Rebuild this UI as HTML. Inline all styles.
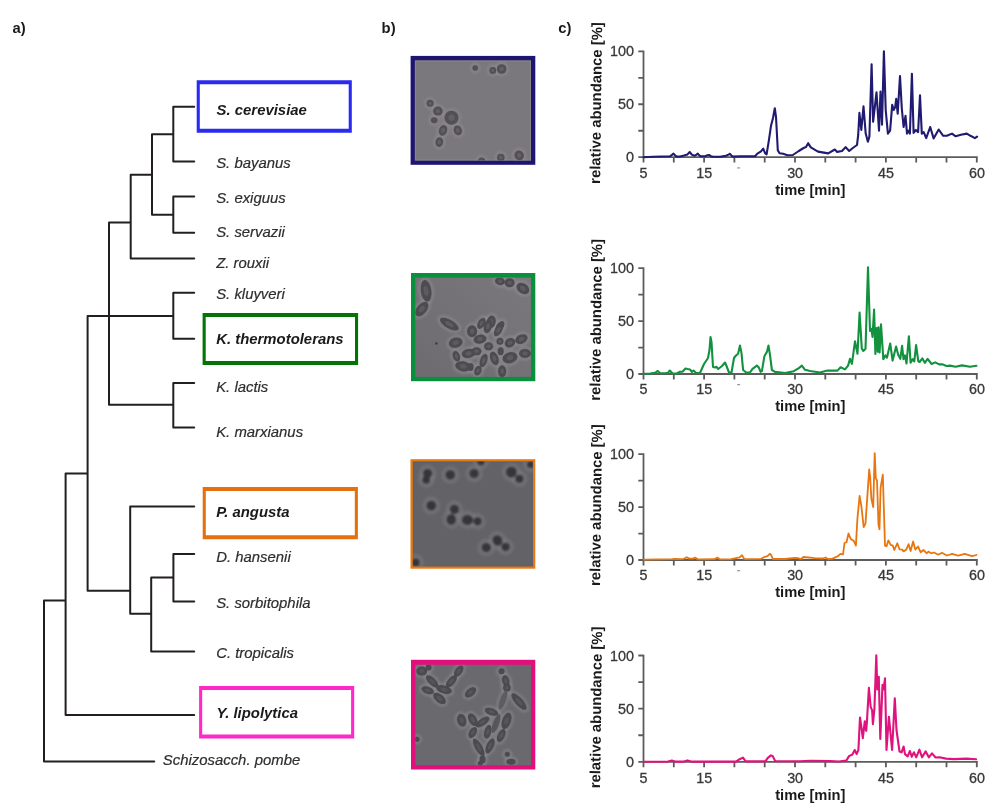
<!DOCTYPE html><html><head><meta charset="utf-8"><style>html,body{margin:0;padding:0;background:#fff;}svg{display:block;will-change:transform;opacity:0.999;}text{font-family:"Liberation Sans", sans-serif;}</style></head><body>
<svg width="1000" height="812" viewBox="0 0 1000 812">
<rect width="1000" height="812" fill="#fff"/>
<text x="12.6" y="33.4" font-size="14.8" font-weight="bold" fill="#1a1a1a">a)</text>
<text x="381.6" y="33.4" font-size="14.8" font-weight="bold" fill="#1a1a1a">b)</text>
<text x="558.2" y="33.4" font-size="14.8" font-weight="bold" fill="#1a1a1a">c)</text>
<path d="M173.3 106.8H194.2 M173.3 161.6H194.2 M173.3 106.8V161.6 M152.0 134.3H173.3 M173.3 196.6H194.2 M173.3 232.8H194.2 M173.3 196.6V232.8 M152.0 214.8H173.3 M152.0 134.3V214.8 M130.7 174.7H152.0 M130.7 258.6H194.2 M130.7 174.7V258.6 M109.0 222.4H130.7 M173.3 292.8H194.2 M173.3 338.7H194.2 M173.3 292.8V338.7 M173.3 382.9H194.2 M173.3 427.4H194.2 M173.3 382.9V427.4 M109.0 404.7H173.3 M109.0 222.4V404.7 M87.6 316.1H173.3 M87.6 316.1V590.8 M87.6 590.8H130.2 M130.2 506.4H194.2 M130.2 506.4V613.7 M130.2 613.7H151.2 M173.4 554.0H194.2 M173.4 601.4H194.2 M173.4 554.0V601.4 M151.2 577.6H173.4 M151.2 651.4H194.2 M151.2 577.6V651.4 M65.6 473.6H87.6 M65.6 473.6V715.0 M65.6 715.0H194.2 M44.0 600.4H65.6 M44.0 600.4V761.5 M44.0 761.5H154.2" stroke="#231f20" stroke-width="2" fill="none" stroke-linecap="round" stroke-linejoin="round"/>
<path d="M196.7 80.3H351.8V132.8H196.7Z M199.79999999999998 84.3V128.8H348.7V84.3Z" fill="#2a2af0" fill-rule="evenodd"/>
<path d="M202.6 312.9H358.1V365.1H202.6Z M205.7 316.9V361.1H355.0V316.9Z" fill="#037403" fill-rule="evenodd"/>
<path d="M202.7 487.0H357.9V539.2H202.7Z M205.79999999999998 491.0V535.2H354.79999999999995V491.0Z" fill="#e5700e" fill-rule="evenodd"/>
<path d="M199.1 686.1H354.2V738.6H199.1Z M202.2 690.1V734.6H351.09999999999997V690.1Z" fill="#ff28c8" fill-rule="evenodd"/>
<text x="216.6" y="115.3" font-size="14.9" font-style="italic" font-weight="bold" fill="#1a1a1a">S. cerevisiae</text>
<text x="216.2" y="168.4" font-size="14.9" font-style="italic" fill="#2e2e2e" stroke="#2e2e2e" stroke-width="0.2">S. bayanus</text>
<text x="216.2" y="203.4" font-size="14.9" font-style="italic" fill="#2e2e2e" stroke="#2e2e2e" stroke-width="0.2">S. exiguus</text>
<text x="216.2" y="237.4" font-size="14.9" font-style="italic" fill="#2e2e2e" stroke="#2e2e2e" stroke-width="0.2">S. servazii</text>
<text x="216.2" y="267.6" font-size="14.9" font-style="italic" fill="#2e2e2e" stroke="#2e2e2e" stroke-width="0.2">Z. rouxii</text>
<text x="216.2" y="298.9" font-size="14.9" font-style="italic" fill="#2e2e2e" stroke="#2e2e2e" stroke-width="0.2">S. kluyveri</text>
<text x="216.2" y="343.8" font-size="14.9" font-style="italic" font-weight="bold" fill="#1a1a1a">K. thermotolerans</text>
<text x="216.2" y="392.0" font-size="14.9" font-style="italic" fill="#2e2e2e" stroke="#2e2e2e" stroke-width="0.2">K. lactis</text>
<text x="216.2" y="436.7" font-size="14.9" font-style="italic" fill="#2e2e2e" stroke="#2e2e2e" stroke-width="0.2">K. marxianus</text>
<text x="216.2" y="516.8" font-size="14.9" font-style="italic" font-weight="bold" fill="#1a1a1a">P. angusta</text>
<text x="216.2" y="562.4" font-size="14.9" font-style="italic" fill="#2e2e2e" stroke="#2e2e2e" stroke-width="0.2">D. hansenii</text>
<text x="216.2" y="608.0" font-size="14.9" font-style="italic" fill="#2e2e2e" stroke="#2e2e2e" stroke-width="0.2">S. sorbitophila</text>
<text x="216.2" y="657.7" font-size="14.9" font-style="italic" fill="#2e2e2e" stroke="#2e2e2e" stroke-width="0.2">C. tropicalis</text>
<text x="216.6" y="718.4" font-size="14.9" font-style="italic" font-weight="bold" fill="#1a1a1a">Y. lipolytica</text>
<text x="162.8" y="765.0" font-size="14.9" font-style="italic" fill="#2e2e2e" stroke="#2e2e2e" stroke-width="0.2">Schizosacch. pombe</text>
<defs><filter id="bl" x="-10%" y="-10%" width="120%" height="120%"><feGaussianBlur stdDeviation="0.75"/></filter><filter id="bl2" x="-10%" y="-10%" width="120%" height="120%"><feGaussianBlur stdDeviation="1.2"/></filter><linearGradient id="g2" x1="1" y1="0" x2="0" y2="1"><stop offset="0" stop-color="#7a787c"/><stop offset="1" stop-color="#6d6b70"/></linearGradient><filter id="bl3" x="-10%" y="-10%" width="120%" height="120%"><feGaussianBlur stdDeviation="1.05"/></filter></defs>
<rect x="410.6" y="55.9" width="124.69999999999993" height="108.9" fill="#1d1570"/>
<rect x="414.90000000000003" y="60.5" width="116.09999999999997" height="100.0" fill="#7b787d"/>
<rect x="415.40000000000003" y="61.0" width="115.09999999999997" height="99.0" fill="none" stroke="#88858b" stroke-width="1"/>
<clipPath id="c1"><rect x="414.90000000000003" y="60.5" width="116.09999999999997" height="100.0"/></clipPath><g clip-path="url(#c1)"><g filter="url(#bl)">
<g filter="url(#bl2)">
<ellipse cx="475.2" cy="68.0" rx="4.199999999999999" ry="4.199999999999999" fill="none" stroke="#a4a2a7" stroke-width="2.2" opacity="0.3"/>
<ellipse cx="492.8" cy="70.4" rx="4.8" ry="4.8" fill="none" stroke="#a4a2a7" stroke-width="2.2" opacity="0.3"/>
<ellipse cx="501.6" cy="69.0" rx="6.199999999999999" ry="6.199999999999999" fill="none" stroke="#a4a2a7" stroke-width="2.2" opacity="0.3"/>
<ellipse cx="430.1" cy="103.3" rx="4.9" ry="4.9" fill="none" stroke="#a4a2a7" stroke-width="2.2" opacity="0.3"/>
<ellipse cx="437.9" cy="111.1" rx="6.199999999999999" ry="5.9" fill="none" stroke="#a4a2a7" stroke-width="2.2" opacity="0.3"/>
<ellipse cx="451.5" cy="117.7" rx="8.4" ry="8.4" fill="none" stroke="#a4a2a7" stroke-width="2.2" opacity="0.3"/>
<ellipse cx="434.2" cy="120.3" rx="4.699999999999999" ry="4.4" fill="none" stroke="#a4a2a7" stroke-width="2.2" opacity="0.3"/>
<ellipse cx="443.0" cy="130.3" rx="5.4" ry="6.9" fill="none" stroke="#a4a2a7" stroke-width="2.2" opacity="0.3" transform="rotate(20 443.0 130.3)"/>
<ellipse cx="457.8" cy="130.3" rx="5.4" ry="6.4" fill="none" stroke="#a4a2a7" stroke-width="2.2" opacity="0.3" transform="rotate(-20 457.8 130.3)"/>
<ellipse cx="439.3" cy="142.1" rx="5.199999999999999" ry="6.199999999999999" fill="none" stroke="#a4a2a7" stroke-width="2.2" opacity="0.3" transform="rotate(10 439.3 142.1)"/>
<ellipse cx="481.6" cy="161.0" rx="4.9" ry="4.9" fill="none" stroke="#a4a2a7" stroke-width="2.2" opacity="0.3"/>
<ellipse cx="500.8" cy="157.5" rx="5.199999999999999" ry="5.199999999999999" fill="none" stroke="#a4a2a7" stroke-width="2.2" opacity="0.3"/>
<ellipse cx="519.2" cy="155.4" rx="6.0" ry="6.4" fill="none" stroke="#a4a2a7" stroke-width="2.2" opacity="0.3" transform="rotate(-30 519.2 155.4)"/>
</g>
<ellipse cx="475.2" cy="68.0" rx="2.8" ry="2.8" fill="#524f56"/>
<ellipse cx="492.8" cy="70.4" rx="3.4" ry="3.4" fill="#524f56"/>
<ellipse cx="492.8" cy="70.4" rx="1.53" ry="1.53" fill="#716e74" opacity="0.55"/>
<ellipse cx="501.6" cy="69.0" rx="4.8" ry="4.8" fill="#524f56"/>
<ellipse cx="501.6" cy="69.0" rx="2.16" ry="2.16" fill="#716e74" opacity="0.55"/>
<ellipse cx="430.1" cy="103.3" rx="3.5" ry="3.5" fill="#524f56"/>
<ellipse cx="430.1" cy="103.3" rx="1.575" ry="1.575" fill="#716e74" opacity="0.55"/>
<ellipse cx="437.9" cy="111.1" rx="4.8" ry="4.5" fill="#524f56"/>
<ellipse cx="437.9" cy="111.1" rx="2.16" ry="2.025" fill="#716e74" opacity="0.55"/>
<ellipse cx="451.5" cy="117.7" rx="7.0" ry="7.0" fill="#524f56"/>
<ellipse cx="451.5" cy="117.7" rx="3.15" ry="3.15" fill="#716e74" opacity="0.55"/>
<ellipse cx="434.2" cy="120.3" rx="3.3" ry="3.0" fill="#524f56"/>
<ellipse cx="443.0" cy="130.3" rx="4.0" ry="5.5" fill="#524f56" transform="rotate(20 443.0 130.3)"/>
<ellipse cx="443.0" cy="130.3" rx="1.8" ry="2.475" fill="#716e74" opacity="0.55" transform="rotate(20 443.0 130.3)"/>
<ellipse cx="457.8" cy="130.3" rx="4.0" ry="5.0" fill="#524f56" transform="rotate(-20 457.8 130.3)"/>
<ellipse cx="457.8" cy="130.3" rx="1.8" ry="2.25" fill="#716e74" opacity="0.55" transform="rotate(-20 457.8 130.3)"/>
<ellipse cx="439.3" cy="142.1" rx="3.8" ry="4.8" fill="#524f56" transform="rotate(10 439.3 142.1)"/>
<ellipse cx="439.3" cy="142.1" rx="1.71" ry="2.16" fill="#716e74" opacity="0.55" transform="rotate(10 439.3 142.1)"/>
<ellipse cx="481.6" cy="161.0" rx="3.5" ry="3.5" fill="#524f56"/>
<ellipse cx="481.6" cy="161.0" rx="1.575" ry="1.575" fill="#716e74" opacity="0.55"/>
<ellipse cx="500.8" cy="157.5" rx="3.8" ry="3.8" fill="#524f56"/>
<ellipse cx="500.8" cy="157.5" rx="1.71" ry="1.71" fill="#716e74" opacity="0.55"/>
<ellipse cx="519.2" cy="155.4" rx="4.6" ry="5.0" fill="#524f56" transform="rotate(-30 519.2 155.4)"/>
<ellipse cx="519.2" cy="155.4" rx="2.07" ry="2.25" fill="#716e74" opacity="0.55" transform="rotate(-30 519.2 155.4)"/>
</g></g>
<rect x="411.0" y="273.0" width="124.29999999999995" height="108.19999999999999" fill="#0a8f3c"/>
<rect x="415.3" y="277.6" width="115.69999999999999" height="99.29999999999995" fill="url(#g2)"/>
<clipPath id="c2"><rect x="415.3" y="277.6" width="115.69999999999999" height="99.29999999999995"/></clipPath><g clip-path="url(#c2)"><g filter="url(#bl)">
<g filter="url(#bl2)">
<ellipse cx="426.1" cy="290.9" rx="6.699999999999999" ry="12.4" fill="none" stroke="#9c9aa0" stroke-width="2.2" opacity="0.45" transform="rotate(-8 426.1 290.9)"/>
<ellipse cx="421.8" cy="309.1" rx="6.199999999999999" ry="9.9" fill="none" stroke="#9c9aa0" stroke-width="2.2" opacity="0.45" transform="rotate(40 421.8 309.1)"/>
<ellipse cx="449.3" cy="324.1" rx="5.699999999999999" ry="11.9" fill="none" stroke="#9c9aa0" stroke-width="2.2" opacity="0.45" transform="rotate(-60 449.3 324.1)"/>
<ellipse cx="500.0" cy="281.3" rx="6.4" ry="5.199999999999999" fill="none" stroke="#9c9aa0" stroke-width="2.2" opacity="0.45" transform="rotate(10 500.0 281.3)"/>
<ellipse cx="509.6" cy="282.7" rx="6.4" ry="5.9" fill="none" stroke="#9c9aa0" stroke-width="2.2" opacity="0.45"/>
<ellipse cx="522.9" cy="288.4" rx="8.4" ry="6.4" fill="none" stroke="#9c9aa0" stroke-width="2.2" opacity="0.45" transform="rotate(35 522.9 288.4)"/>
<ellipse cx="481.4" cy="323.4" rx="4.9" ry="7.4" fill="none" stroke="#9c9aa0" stroke-width="2.2" opacity="0.45" transform="rotate(30 481.4 323.4)"/>
<ellipse cx="491.1" cy="322.0" rx="5.9" ry="7.9" fill="none" stroke="#9c9aa0" stroke-width="2.2" opacity="0.45" transform="rotate(15 491.1 322.0)"/>
<ellipse cx="500.0" cy="326.3" rx="4.9" ry="7.4" fill="none" stroke="#9c9aa0" stroke-width="2.2" opacity="0.45" transform="rotate(35 500.0 326.3)"/>
<ellipse cx="455.7" cy="342.7" rx="8.4" ry="6.4" fill="none" stroke="#9c9aa0" stroke-width="2.2" opacity="0.45" transform="rotate(-15 455.7 342.7)"/>
<ellipse cx="456.4" cy="356.3" rx="4.9" ry="6.9" fill="none" stroke="#9c9aa0" stroke-width="2.2" opacity="0.45" transform="rotate(-20 456.4 356.3)"/>
<ellipse cx="463.2" cy="366.3" rx="9.4" ry="6.4" fill="none" stroke="#9c9aa0" stroke-width="2.2" opacity="0.45" transform="rotate(10 463.2 366.3)"/>
<ellipse cx="468.6" cy="353.4" rx="8.4" ry="5.9" fill="none" stroke="#9c9aa0" stroke-width="2.2" opacity="0.45" transform="rotate(-10 468.6 353.4)"/>
<ellipse cx="472.1" cy="331.3" rx="6.4" ry="7.4" fill="none" stroke="#9c9aa0" stroke-width="2.2" opacity="0.45"/>
<ellipse cx="480.0" cy="339.1" rx="7.9" ry="5.9" fill="none" stroke="#9c9aa0" stroke-width="2.2" opacity="0.45" transform="rotate(-10 480.0 339.1)"/>
<ellipse cx="487.9" cy="326.3" rx="5.4" ry="8.4" fill="none" stroke="#9c9aa0" stroke-width="2.2" opacity="0.45" transform="rotate(15 487.9 326.3)"/>
<ellipse cx="498.6" cy="329.9" rx="4.9" ry="8.4" fill="none" stroke="#9c9aa0" stroke-width="2.2" opacity="0.45" transform="rotate(30 498.6 329.9)"/>
<ellipse cx="500.0" cy="341.3" rx="4.9" ry="4.9" fill="none" stroke="#9c9aa0" stroke-width="2.2" opacity="0.45"/>
<ellipse cx="488.6" cy="346.3" rx="5.9" ry="5.4" fill="none" stroke="#9c9aa0" stroke-width="2.2" opacity="0.45"/>
<ellipse cx="510.0" cy="342.7" rx="6.9" ry="5.9" fill="none" stroke="#9c9aa0" stroke-width="2.2" opacity="0.45" transform="rotate(-30 510.0 342.7)"/>
<ellipse cx="521.4" cy="339.1" rx="7.9" ry="5.9" fill="none" stroke="#9c9aa0" stroke-width="2.2" opacity="0.45" transform="rotate(-25 521.4 339.1)"/>
<ellipse cx="500.7" cy="351.3" rx="4.4" ry="5.4" fill="none" stroke="#9c9aa0" stroke-width="2.2" opacity="0.45"/>
<ellipse cx="510.0" cy="357.7" rx="8.9" ry="6.9" fill="none" stroke="#9c9aa0" stroke-width="2.2" opacity="0.45" transform="rotate(-15 510.0 357.7)"/>
<ellipse cx="525.0" cy="353.4" rx="7.4" ry="5.9" fill="none" stroke="#9c9aa0" stroke-width="2.2" opacity="0.45"/>
<ellipse cx="476.4" cy="351.3" rx="6.4" ry="5.4" fill="none" stroke="#9c9aa0" stroke-width="2.2" opacity="0.45"/>
<ellipse cx="483.6" cy="360.6" rx="4.9" ry="8.4" fill="none" stroke="#9c9aa0" stroke-width="2.2" opacity="0.45" transform="rotate(20 483.6 360.6)"/>
<ellipse cx="494.3" cy="358.4" rx="5.4" ry="8.4" fill="none" stroke="#9c9aa0" stroke-width="2.2" opacity="0.45" transform="rotate(-20 494.3 358.4)"/>
<ellipse cx="477.9" cy="370.6" rx="4.9" ry="6.4" fill="none" stroke="#9c9aa0" stroke-width="2.2" opacity="0.45" transform="rotate(20 477.9 370.6)"/>
<ellipse cx="502.1" cy="371.3" rx="5.4" ry="7.4" fill="none" stroke="#9c9aa0" stroke-width="2.2" opacity="0.45"/>
<ellipse cx="470.7" cy="367" rx="4.4" ry="5.4" fill="none" stroke="#9c9aa0" stroke-width="2.2" opacity="0.45"/>
</g>
<ellipse cx="426.1" cy="290.9" rx="5.3" ry="11" fill="#4d4c51" transform="rotate(-8 426.1 290.9)"/>
<ellipse cx="426.1" cy="290.9" rx="2.385" ry="4.95" fill="#69676d" opacity="0.55" transform="rotate(-8 426.1 290.9)"/>
<ellipse cx="421.8" cy="309.1" rx="4.8" ry="8.5" fill="#4d4c51" transform="rotate(40 421.8 309.1)"/>
<ellipse cx="421.8" cy="309.1" rx="2.16" ry="3.825" fill="#69676d" opacity="0.55" transform="rotate(40 421.8 309.1)"/>
<ellipse cx="449.3" cy="324.1" rx="4.3" ry="10.5" fill="#4d4c51" transform="rotate(-60 449.3 324.1)"/>
<ellipse cx="449.3" cy="324.1" rx="1.935" ry="4.7250000000000005" fill="#69676d" opacity="0.55" transform="rotate(-60 449.3 324.1)"/>
<ellipse cx="500.0" cy="281.3" rx="5" ry="3.8" fill="#4d4c51" transform="rotate(10 500.0 281.3)"/>
<ellipse cx="500.0" cy="281.3" rx="2.25" ry="1.71" fill="#69676d" opacity="0.55" transform="rotate(10 500.0 281.3)"/>
<ellipse cx="509.6" cy="282.7" rx="5" ry="4.5" fill="#4d4c51"/>
<ellipse cx="509.6" cy="282.7" rx="2.25" ry="2.025" fill="#69676d" opacity="0.55"/>
<ellipse cx="522.9" cy="288.4" rx="7" ry="5" fill="#4d4c51" transform="rotate(35 522.9 288.4)"/>
<ellipse cx="522.9" cy="288.4" rx="3.15" ry="2.25" fill="#69676d" opacity="0.55" transform="rotate(35 522.9 288.4)"/>
<ellipse cx="481.4" cy="323.4" rx="3.5" ry="6" fill="#4d4c51" transform="rotate(30 481.4 323.4)"/>
<ellipse cx="481.4" cy="323.4" rx="1.575" ry="2.7" fill="#69676d" opacity="0.55" transform="rotate(30 481.4 323.4)"/>
<ellipse cx="491.1" cy="322.0" rx="4.5" ry="6.5" fill="#4d4c51" transform="rotate(15 491.1 322.0)"/>
<ellipse cx="491.1" cy="322.0" rx="2.025" ry="2.9250000000000003" fill="#69676d" opacity="0.55" transform="rotate(15 491.1 322.0)"/>
<ellipse cx="500.0" cy="326.3" rx="3.5" ry="6" fill="#4d4c51" transform="rotate(35 500.0 326.3)"/>
<ellipse cx="500.0" cy="326.3" rx="1.575" ry="2.7" fill="#69676d" opacity="0.55" transform="rotate(35 500.0 326.3)"/>
<ellipse cx="455.7" cy="342.7" rx="7" ry="5" fill="#4d4c51" transform="rotate(-15 455.7 342.7)"/>
<ellipse cx="455.7" cy="342.7" rx="3.15" ry="2.25" fill="#69676d" opacity="0.55" transform="rotate(-15 455.7 342.7)"/>
<ellipse cx="456.4" cy="356.3" rx="3.5" ry="5.5" fill="#4d4c51" transform="rotate(-20 456.4 356.3)"/>
<ellipse cx="456.4" cy="356.3" rx="1.575" ry="2.475" fill="#69676d" opacity="0.55" transform="rotate(-20 456.4 356.3)"/>
<ellipse cx="463.2" cy="366.3" rx="8" ry="5" fill="#4d4c51" transform="rotate(10 463.2 366.3)"/>
<ellipse cx="463.2" cy="366.3" rx="3.6" ry="2.25" fill="#69676d" opacity="0.55" transform="rotate(10 463.2 366.3)"/>
<ellipse cx="468.6" cy="353.4" rx="7" ry="4.5" fill="#4d4c51" transform="rotate(-10 468.6 353.4)"/>
<ellipse cx="468.6" cy="353.4" rx="3.15" ry="2.025" fill="#69676d" opacity="0.55" transform="rotate(-10 468.6 353.4)"/>
<ellipse cx="472.1" cy="331.3" rx="5" ry="6" fill="#4d4c51"/>
<ellipse cx="472.1" cy="331.3" rx="2.25" ry="2.7" fill="#69676d" opacity="0.55"/>
<ellipse cx="480.0" cy="339.1" rx="6.5" ry="4.5" fill="#4d4c51" transform="rotate(-10 480.0 339.1)"/>
<ellipse cx="480.0" cy="339.1" rx="2.9250000000000003" ry="2.025" fill="#69676d" opacity="0.55" transform="rotate(-10 480.0 339.1)"/>
<ellipse cx="487.9" cy="326.3" rx="4" ry="7" fill="#4d4c51" transform="rotate(15 487.9 326.3)"/>
<ellipse cx="487.9" cy="326.3" rx="1.8" ry="3.15" fill="#69676d" opacity="0.55" transform="rotate(15 487.9 326.3)"/>
<ellipse cx="498.6" cy="329.9" rx="3.5" ry="7" fill="#4d4c51" transform="rotate(30 498.6 329.9)"/>
<ellipse cx="498.6" cy="329.9" rx="1.575" ry="3.15" fill="#69676d" opacity="0.55" transform="rotate(30 498.6 329.9)"/>
<ellipse cx="500.0" cy="341.3" rx="3.5" ry="3.5" fill="#4d4c51"/>
<ellipse cx="500.0" cy="341.3" rx="1.575" ry="1.575" fill="#69676d" opacity="0.55"/>
<ellipse cx="488.6" cy="346.3" rx="4.5" ry="4" fill="#4d4c51"/>
<ellipse cx="488.6" cy="346.3" rx="2.025" ry="1.8" fill="#69676d" opacity="0.55"/>
<ellipse cx="510.0" cy="342.7" rx="5.5" ry="4.5" fill="#4d4c51" transform="rotate(-30 510.0 342.7)"/>
<ellipse cx="510.0" cy="342.7" rx="2.475" ry="2.025" fill="#69676d" opacity="0.55" transform="rotate(-30 510.0 342.7)"/>
<ellipse cx="521.4" cy="339.1" rx="6.5" ry="4.5" fill="#4d4c51" transform="rotate(-25 521.4 339.1)"/>
<ellipse cx="521.4" cy="339.1" rx="2.9250000000000003" ry="2.025" fill="#69676d" opacity="0.55" transform="rotate(-25 521.4 339.1)"/>
<ellipse cx="500.7" cy="351.3" rx="3" ry="4" fill="#4d4c51"/>
<ellipse cx="510.0" cy="357.7" rx="7.5" ry="5.5" fill="#4d4c51" transform="rotate(-15 510.0 357.7)"/>
<ellipse cx="510.0" cy="357.7" rx="3.375" ry="2.475" fill="#69676d" opacity="0.55" transform="rotate(-15 510.0 357.7)"/>
<ellipse cx="525.0" cy="353.4" rx="6" ry="4.5" fill="#4d4c51"/>
<ellipse cx="525.0" cy="353.4" rx="2.7" ry="2.025" fill="#69676d" opacity="0.55"/>
<ellipse cx="476.4" cy="351.3" rx="5" ry="4" fill="#4d4c51"/>
<ellipse cx="476.4" cy="351.3" rx="2.25" ry="1.8" fill="#69676d" opacity="0.55"/>
<ellipse cx="483.6" cy="360.6" rx="3.5" ry="7" fill="#4d4c51" transform="rotate(20 483.6 360.6)"/>
<ellipse cx="483.6" cy="360.6" rx="1.575" ry="3.15" fill="#69676d" opacity="0.55" transform="rotate(20 483.6 360.6)"/>
<ellipse cx="494.3" cy="358.4" rx="4" ry="7" fill="#4d4c51" transform="rotate(-20 494.3 358.4)"/>
<ellipse cx="494.3" cy="358.4" rx="1.8" ry="3.15" fill="#69676d" opacity="0.55" transform="rotate(-20 494.3 358.4)"/>
<ellipse cx="477.9" cy="370.6" rx="3.5" ry="5" fill="#4d4c51" transform="rotate(20 477.9 370.6)"/>
<ellipse cx="477.9" cy="370.6" rx="1.575" ry="2.25" fill="#69676d" opacity="0.55" transform="rotate(20 477.9 370.6)"/>
<ellipse cx="502.1" cy="371.3" rx="4" ry="6" fill="#4d4c51"/>
<ellipse cx="502.1" cy="371.3" rx="1.8" ry="2.7" fill="#69676d" opacity="0.55"/>
<ellipse cx="470.7" cy="367" rx="3" ry="4" fill="#4d4c51"/>
<circle cx="436.4" cy="343.4" r="1.2" fill="#3a393e"/>
</g></g>
<rect x="410.5" y="459.2" width="124.79999999999995" height="109.50000000000006" fill="#e8780f"/>
<rect x="412.9" y="461.59999999999997" width="120.0" height="104.7000000000001" fill="#636267"/>
<rect x="413.4" y="462.09999999999997" width="119.0" height="103.7000000000001" fill="none" stroke="#5a6270" stroke-width="1"/>
<clipPath id="c3"><rect x="412.9" y="461.59999999999997" width="120.0" height="104.7000000000001"/></clipPath><g clip-path="url(#c3)"><g filter="url(#bl3)">
<g filter="url(#bl2)">
<ellipse cx="427.6" cy="473.5" rx="7.0" ry="7.0" fill="none" stroke="#8c8b90" stroke-width="2.1" opacity="0.6"/>
<ellipse cx="426.2" cy="479.7" rx="6.3" ry="6.3" fill="none" stroke="#8c8b90" stroke-width="2.1" opacity="0.6"/>
<ellipse cx="450.3" cy="474.9" rx="7.1" ry="7.1" fill="none" stroke="#8c8b90" stroke-width="2.1" opacity="0.6"/>
<ellipse cx="474.1" cy="473.5" rx="7.0" ry="7.0" fill="none" stroke="#8c8b90" stroke-width="2.1" opacity="0.6"/>
<ellipse cx="511.4" cy="472.1" rx="7.800000000000001" ry="7.800000000000001" fill="none" stroke="#8c8b90" stroke-width="2.1" opacity="0.6"/>
<ellipse cx="519.3" cy="478.7" rx="6.4" ry="6.4" fill="none" stroke="#8c8b90" stroke-width="2.1" opacity="0.6"/>
<ellipse cx="431.3" cy="505.6" rx="7.199999999999999" ry="7.199999999999999" fill="none" stroke="#8c8b90" stroke-width="2.1" opacity="0.6"/>
<ellipse cx="454.4" cy="509.4" rx="7.0" ry="7.0" fill="none" stroke="#8c8b90" stroke-width="2.1" opacity="0.6"/>
<ellipse cx="451.3" cy="519.4" rx="7.0" ry="7.800000000000001" fill="none" stroke="#8c8b90" stroke-width="2.1" opacity="0.6"/>
<ellipse cx="467.5" cy="520.0" rx="8.0" ry="7.4" fill="none" stroke="#8c8b90" stroke-width="2.1" opacity="0.6"/>
<ellipse cx="477.5" cy="521.3" rx="6.4" ry="6.4" fill="none" stroke="#8c8b90" stroke-width="2.1" opacity="0.6"/>
<ellipse cx="486.3" cy="547.5" rx="7.0" ry="7.0" fill="none" stroke="#8c8b90" stroke-width="2.1" opacity="0.6"/>
<ellipse cx="497.5" cy="540.6" rx="7.199999999999999" ry="7.800000000000001" fill="none" stroke="#8c8b90" stroke-width="2.1" opacity="0.6" transform="rotate(-30 497.5 540.6)"/>
<ellipse cx="505.6" cy="546.9" rx="6.6" ry="6.6" fill="none" stroke="#8c8b90" stroke-width="2.1" opacity="0.6"/>
<ellipse cx="415.6" cy="562.5" rx="6.4" ry="6.4" fill="none" stroke="#8c8b90" stroke-width="2.1" opacity="0.6"/>
<ellipse cx="481.0" cy="461.8" rx="6.0" ry="6.0" fill="none" stroke="#8c8b90" stroke-width="2.1" opacity="0.6"/>
<ellipse cx="530.7" cy="464.5" rx="6.0" ry="6.0" fill="none" stroke="#8c8b90" stroke-width="2.1" opacity="0.6"/>
</g>
<ellipse cx="427.6" cy="473.5" rx="4.6" ry="4.6" fill="#36353a"/>
<ellipse cx="426.2" cy="479.7" rx="3.9" ry="3.9" fill="#36353a"/>
<ellipse cx="450.3" cy="474.9" rx="4.7" ry="4.7" fill="#36353a"/>
<ellipse cx="474.1" cy="473.5" rx="4.6" ry="4.6" fill="#36353a"/>
<ellipse cx="511.4" cy="472.1" rx="5.4" ry="5.4" fill="#36353a"/>
<ellipse cx="519.3" cy="478.7" rx="4.0" ry="4.0" fill="#36353a"/>
<ellipse cx="431.3" cy="505.6" rx="4.8" ry="4.8" fill="#36353a"/>
<ellipse cx="454.4" cy="509.4" rx="4.6" ry="4.6" fill="#36353a"/>
<ellipse cx="451.3" cy="519.4" rx="4.6" ry="5.4" fill="#36353a"/>
<ellipse cx="467.5" cy="520.0" rx="5.6" ry="5.0" fill="#36353a"/>
<ellipse cx="477.5" cy="521.3" rx="4.0" ry="4.0" fill="#36353a"/>
<ellipse cx="486.3" cy="547.5" rx="4.6" ry="4.6" fill="#36353a"/>
<ellipse cx="497.5" cy="540.6" rx="4.8" ry="5.4" fill="#36353a" transform="rotate(-30 497.5 540.6)"/>
<ellipse cx="505.6" cy="546.9" rx="4.2" ry="4.2" fill="#36353a"/>
<ellipse cx="415.6" cy="562.5" rx="4.0" ry="4.0" fill="#36353a"/>
<ellipse cx="481.0" cy="461.8" rx="3.6" ry="3.6" fill="#36353a"/>
<ellipse cx="530.7" cy="464.5" rx="3.6" ry="3.6" fill="#36353a"/>
</g></g>
<rect x="411.0" y="659.8" width="124.29999999999995" height="109.70000000000005" fill="#e20e7c"/>
<rect x="415.3" y="664.8" width="115.69999999999999" height="100.40000000000009" fill="#6a696d"/>
<clipPath id="c4"><rect x="415.3" y="664.8" width="115.69999999999999" height="100.40000000000009"/></clipPath><g clip-path="url(#c4)"><g filter="url(#bl)">
<g filter="url(#bl2)">
<ellipse cx="421.8" cy="671.1" rx="6.9" ry="5.9" fill="none" stroke="#9a999e" stroke-width="2.2" opacity="0.45"/>
<ellipse cx="428.5" cy="667.4" rx="4.4" ry="4.4" fill="none" stroke="#9a999e" stroke-width="2.2" opacity="0.45"/>
<ellipse cx="432.2" cy="681.4" rx="4.9" ry="9.4" fill="none" stroke="#9a999e" stroke-width="2.2" opacity="0.45" transform="rotate(-45 432.2 681.4)"/>
<ellipse cx="444.0" cy="689.5" rx="5.4" ry="9.4" fill="none" stroke="#9a999e" stroke-width="2.2" opacity="0.45" transform="rotate(-75 444.0 689.5)"/>
<ellipse cx="451.4" cy="681.4" rx="4.9" ry="8.9" fill="none" stroke="#9a999e" stroke-width="2.2" opacity="0.45" transform="rotate(40 451.4 681.4)"/>
<ellipse cx="458.7" cy="671.1" rx="4.9" ry="7.9" fill="none" stroke="#9a999e" stroke-width="2.2" opacity="0.45" transform="rotate(35 458.7 671.1)"/>
<ellipse cx="427.7" cy="690.3" rx="4.9" ry="7.9" fill="none" stroke="#9a999e" stroke-width="2.2" opacity="0.45" transform="rotate(-70 427.7 690.3)"/>
<ellipse cx="439.5" cy="698.4" rx="5.4" ry="8.9" fill="none" stroke="#9a999e" stroke-width="2.2" opacity="0.45" transform="rotate(-50 439.5 698.4)"/>
<ellipse cx="470.5" cy="692.3" rx="5.199999999999999" ry="7.9" fill="none" stroke="#9a999e" stroke-width="2.2" opacity="0.45" transform="rotate(50 470.5 692.3)"/>
<ellipse cx="501.6" cy="671.3" rx="4.4" ry="4.4" fill="none" stroke="#9a999e" stroke-width="2.2" opacity="0.45"/>
<ellipse cx="505.8" cy="681.0" rx="4.9" ry="7.4" fill="none" stroke="#9a999e" stroke-width="2.2" opacity="0.45" transform="rotate(-15 505.8 681.0)"/>
<ellipse cx="506.9" cy="687.8" rx="5.199999999999999" ry="5.4" fill="none" stroke="#9a999e" stroke-width="2.2" opacity="0.45"/>
<ellipse cx="503.0" cy="700.0" rx="4.199999999999999" ry="11.4" fill="none" stroke="#9a999e" stroke-width="2.2" opacity="0.45" transform="rotate(20 503.0 700.0)"/>
<ellipse cx="519.0" cy="701.6" rx="5.199999999999999" ry="11.9" fill="none" stroke="#9a999e" stroke-width="2.2" opacity="0.45" transform="rotate(-42 519.0 701.6)"/>
<ellipse cx="491.5" cy="711.8" rx="4.9" ry="8.4" fill="none" stroke="#9a999e" stroke-width="2.2" opacity="0.45" transform="rotate(-70 491.5 711.8)"/>
<ellipse cx="506.5" cy="721.0" rx="5.699999999999999" ry="9.9" fill="none" stroke="#9a999e" stroke-width="2.2" opacity="0.45" transform="rotate(20 506.5 721.0)"/>
<ellipse cx="461.7" cy="720.3" rx="5.9" ry="7.9" fill="none" stroke="#9a999e" stroke-width="2.2" opacity="0.45" transform="rotate(-15 461.7 720.3)"/>
<ellipse cx="417.0" cy="739.2" rx="3.9" ry="3.9" fill="none" stroke="#9a999e" stroke-width="2.2" opacity="0.45"/>
<ellipse cx="472.8" cy="719.8" rx="5.4" ry="8.4" fill="none" stroke="#9a999e" stroke-width="2.2" opacity="0.45" transform="rotate(-30 472.8 719.8)"/>
<ellipse cx="482.5" cy="722.0" rx="4.9" ry="9.4" fill="none" stroke="#9a999e" stroke-width="2.2" opacity="0.45" transform="rotate(55 482.5 722.0)"/>
<ellipse cx="472.8" cy="732.5" rx="4.9" ry="7.4" fill="none" stroke="#9a999e" stroke-width="2.2" opacity="0.45" transform="rotate(30 472.8 732.5)"/>
<ellipse cx="487.8" cy="731.8" rx="4.9" ry="8.4" fill="none" stroke="#9a999e" stroke-width="2.2" opacity="0.45" transform="rotate(15 487.8 731.8)"/>
<ellipse cx="496.0" cy="723.5" rx="4.4" ry="11.4" fill="none" stroke="#9a999e" stroke-width="2.2" opacity="0.45" transform="rotate(20 496.0 723.5)"/>
<ellipse cx="501.3" cy="735.5" rx="4.9" ry="8.4" fill="none" stroke="#9a999e" stroke-width="2.2" opacity="0.45" transform="rotate(25 501.3 735.5)"/>
<ellipse cx="478.8" cy="747.5" rx="4.9" ry="11.4" fill="none" stroke="#9a999e" stroke-width="2.2" opacity="0.45" transform="rotate(-30 478.8 747.5)"/>
<ellipse cx="490.0" cy="746.0" rx="4.9" ry="9.4" fill="none" stroke="#9a999e" stroke-width="2.2" opacity="0.45" transform="rotate(25 490.0 746.0)"/>
<ellipse cx="482.5" cy="759.5" rx="4.4" ry="5.4" fill="none" stroke="#9a999e" stroke-width="2.2" opacity="0.45"/>
<ellipse cx="480.3" cy="763.3" rx="3.9" ry="3.9" fill="none" stroke="#9a999e" stroke-width="2.2" opacity="0.45"/>
<ellipse cx="507.3" cy="754.3" rx="3.9" ry="3.9" fill="none" stroke="#9a999e" stroke-width="2.2" opacity="0.45"/>
<ellipse cx="511.0" cy="761.8" rx="5.9" ry="4.4" fill="none" stroke="#9a999e" stroke-width="2.2" opacity="0.45"/>
</g>
<ellipse cx="421.8" cy="671.1" rx="5.5" ry="4.5" fill="#4c4b50"/>
<ellipse cx="421.8" cy="671.1" rx="2.475" ry="2.025" fill="#605f64" opacity="0.55"/>
<ellipse cx="428.5" cy="667.4" rx="3" ry="3" fill="#4c4b50"/>
<ellipse cx="432.2" cy="681.4" rx="3.5" ry="8" fill="#4c4b50" transform="rotate(-45 432.2 681.4)"/>
<ellipse cx="432.2" cy="681.4" rx="1.575" ry="3.6" fill="#605f64" opacity="0.55" transform="rotate(-45 432.2 681.4)"/>
<ellipse cx="444.0" cy="689.5" rx="4" ry="8" fill="#4c4b50" transform="rotate(-75 444.0 689.5)"/>
<ellipse cx="444.0" cy="689.5" rx="1.8" ry="3.6" fill="#605f64" opacity="0.55" transform="rotate(-75 444.0 689.5)"/>
<ellipse cx="451.4" cy="681.4" rx="3.5" ry="7.5" fill="#4c4b50" transform="rotate(40 451.4 681.4)"/>
<ellipse cx="451.4" cy="681.4" rx="1.575" ry="3.375" fill="#605f64" opacity="0.55" transform="rotate(40 451.4 681.4)"/>
<ellipse cx="458.7" cy="671.1" rx="3.5" ry="6.5" fill="#4c4b50" transform="rotate(35 458.7 671.1)"/>
<ellipse cx="458.7" cy="671.1" rx="1.575" ry="2.9250000000000003" fill="#605f64" opacity="0.55" transform="rotate(35 458.7 671.1)"/>
<ellipse cx="427.7" cy="690.3" rx="3.5" ry="6.5" fill="#4c4b50" transform="rotate(-70 427.7 690.3)"/>
<ellipse cx="427.7" cy="690.3" rx="1.575" ry="2.9250000000000003" fill="#605f64" opacity="0.55" transform="rotate(-70 427.7 690.3)"/>
<ellipse cx="439.5" cy="698.4" rx="4" ry="7.5" fill="#4c4b50" transform="rotate(-50 439.5 698.4)"/>
<ellipse cx="439.5" cy="698.4" rx="1.8" ry="3.375" fill="#605f64" opacity="0.55" transform="rotate(-50 439.5 698.4)"/>
<ellipse cx="470.5" cy="692.3" rx="3.8" ry="6.5" fill="#4c4b50" transform="rotate(50 470.5 692.3)"/>
<ellipse cx="470.5" cy="692.3" rx="1.71" ry="2.9250000000000003" fill="#605f64" opacity="0.55" transform="rotate(50 470.5 692.3)"/>
<ellipse cx="501.6" cy="671.3" rx="3" ry="3" fill="#4c4b50"/>
<ellipse cx="505.8" cy="681.0" rx="3.5" ry="6" fill="#4c4b50" transform="rotate(-15 505.8 681.0)"/>
<ellipse cx="505.8" cy="681.0" rx="1.575" ry="2.7" fill="#605f64" opacity="0.55" transform="rotate(-15 505.8 681.0)"/>
<ellipse cx="506.9" cy="687.8" rx="3.8" ry="4" fill="#4c4b50"/>
<ellipse cx="506.9" cy="687.8" rx="1.71" ry="1.8" fill="#605f64" opacity="0.55"/>
<ellipse cx="503.0" cy="700.0" rx="2.8" ry="10" fill="#5d5c61" transform="rotate(20 503.0 700.0)"/>
<ellipse cx="519.0" cy="701.6" rx="3.8" ry="10.5" fill="#4c4b50" transform="rotate(-42 519.0 701.6)"/>
<ellipse cx="519.0" cy="701.6" rx="1.71" ry="4.7250000000000005" fill="#605f64" opacity="0.55" transform="rotate(-42 519.0 701.6)"/>
<ellipse cx="491.5" cy="711.8" rx="3.5" ry="7" fill="#4c4b50" transform="rotate(-70 491.5 711.8)"/>
<ellipse cx="491.5" cy="711.8" rx="1.575" ry="3.15" fill="#605f64" opacity="0.55" transform="rotate(-70 491.5 711.8)"/>
<ellipse cx="506.5" cy="721.0" rx="4.3" ry="8.5" fill="#4c4b50" transform="rotate(20 506.5 721.0)"/>
<ellipse cx="506.5" cy="721.0" rx="1.935" ry="3.825" fill="#605f64" opacity="0.55" transform="rotate(20 506.5 721.0)"/>
<ellipse cx="461.7" cy="720.3" rx="4.5" ry="6.5" fill="#4c4b50" transform="rotate(-15 461.7 720.3)"/>
<ellipse cx="461.7" cy="720.3" rx="2.025" ry="2.9250000000000003" fill="#605f64" opacity="0.55" transform="rotate(-15 461.7 720.3)"/>
<ellipse cx="417.0" cy="739.2" rx="2.5" ry="2.5" fill="#4c4b50"/>
<ellipse cx="472.8" cy="719.8" rx="4" ry="7" fill="#4c4b50" transform="rotate(-30 472.8 719.8)"/>
<ellipse cx="472.8" cy="719.8" rx="1.8" ry="3.15" fill="#605f64" opacity="0.55" transform="rotate(-30 472.8 719.8)"/>
<ellipse cx="482.5" cy="722.0" rx="3.5" ry="8" fill="#4c4b50" transform="rotate(55 482.5 722.0)"/>
<ellipse cx="482.5" cy="722.0" rx="1.575" ry="3.6" fill="#605f64" opacity="0.55" transform="rotate(55 482.5 722.0)"/>
<ellipse cx="472.8" cy="732.5" rx="3.5" ry="6" fill="#4c4b50" transform="rotate(30 472.8 732.5)"/>
<ellipse cx="472.8" cy="732.5" rx="1.575" ry="2.7" fill="#605f64" opacity="0.55" transform="rotate(30 472.8 732.5)"/>
<ellipse cx="487.8" cy="731.8" rx="3.5" ry="7" fill="#4c4b50" transform="rotate(15 487.8 731.8)"/>
<ellipse cx="487.8" cy="731.8" rx="1.575" ry="3.15" fill="#605f64" opacity="0.55" transform="rotate(15 487.8 731.8)"/>
<ellipse cx="496.0" cy="723.5" rx="3" ry="10" fill="#58575c" transform="rotate(20 496.0 723.5)"/>
<ellipse cx="501.3" cy="735.5" rx="3.5" ry="7" fill="#4c4b50" transform="rotate(25 501.3 735.5)"/>
<ellipse cx="501.3" cy="735.5" rx="1.575" ry="3.15" fill="#605f64" opacity="0.55" transform="rotate(25 501.3 735.5)"/>
<ellipse cx="478.8" cy="747.5" rx="3.5" ry="10" fill="#4c4b50" transform="rotate(-30 478.8 747.5)"/>
<ellipse cx="478.8" cy="747.5" rx="1.575" ry="4.5" fill="#605f64" opacity="0.55" transform="rotate(-30 478.8 747.5)"/>
<ellipse cx="490.0" cy="746.0" rx="3.5" ry="8" fill="#4c4b50" transform="rotate(25 490.0 746.0)"/>
<ellipse cx="490.0" cy="746.0" rx="1.575" ry="3.6" fill="#605f64" opacity="0.55" transform="rotate(25 490.0 746.0)"/>
<ellipse cx="482.5" cy="759.5" rx="3" ry="4" fill="#4c4b50"/>
<ellipse cx="480.3" cy="763.3" rx="2.5" ry="2.5" fill="#4c4b50"/>
<ellipse cx="507.3" cy="754.3" rx="2.5" ry="2.5" fill="#4c4b50"/>
<ellipse cx="511.0" cy="761.8" rx="4.5" ry="3" fill="#4c4b50"/>
</g></g>
<path d="M643.5 50.5V162.6 M638.3 157.2H977.8 M638.3 51.3H643.5 M638.3 77.77499999999999H643.5 M638.3 104.25H643.5 M638.3 130.725H643.5 M673.8 157.2V162.6 M704.1 157.2V162.6 M734.4 157.2V162.6 M764.7 157.2V162.6 M795.0 157.2V162.6 M825.3 157.2V162.6 M855.6 157.2V162.6 M885.9 157.2V162.6 M916.2 157.2V162.6 M946.5 157.2V162.6 M976.8 157.2V162.6" stroke="#5c5c5c" stroke-width="1.8" fill="none"/>
<polyline points="643.5,157.2 653,156.7 670,156.3 672,154.8 673.5,153.6 675,155.2 676.5,156.6 680,156.5 684,155.6 687.5,154.4 689.7,152 691.8,154.6 694.5,155.8 696.5,154.6 697.8,153.6 699.5,155.6 701,156.2 705,156.2 707.5,155.2 709,155 711,156.2 713,156.8 720,156.8 726,155.8 728.5,154.6 730,153.8 731.5,155.6 733,156.6 740,156.3 755,156.3 757.4,153.6 761,151.4 763.2,148.6 765.2,153.4 766.6,154.3 768.8,140.8 771,125.8 773,118 774.8,108.2 776,116.8 777.8,150.4 779.6,153.2 783.2,153.8 787.4,155.2 792.8,155 798.8,151 803.6,148 806,147.1 808.2,143.2 810.8,147.4 818,151.6 828.2,153.4 834.8,149.5 837.2,151.9 842,151 845.6,147.1 849.2,151 852.8,148 857,145 858.2,135 859.4,112.9 861.3,129.9 863.5,106.3 865.7,133.6 867.9,141.8 869.4,136.6 871.6,64.2 873.1,121.8 876.5,92.3 879,130.7 880.5,91.5 882,124.8 883.9,51.2 885.7,110 887.9,133.6 890.1,130.7 892.2,104.8 893.7,110 895.2,107 896.2,98.9 897.7,113.7 900,76 901.8,108.5 903.6,127 905.5,115.9 907,133.6 908.5,130.7 909.9,133.6 911.9,73.8 913.6,132.9 915.8,130 918.1,132.1 920,95.2 921.8,133.6 923.7,132.1 926.2,138.1 930.2,127 933.6,138.4 938.7,129.5 943.2,135.8 946.9,135.8 952,133.6 955.7,136.3 960.9,134.8 966.8,133.6 970.5,135.8 974.9,138.1 977.1,136.6" fill="none" stroke="#201a70" stroke-width="2.1" stroke-linejoin="round" stroke-linecap="round"/>
<text x="634.0" y="162.29999999999998" font-size="14.4" text-anchor="end" fill="#383838" stroke="#383838" stroke-width="0.3">0</text>
<text x="634.0" y="109.35" font-size="14.4" text-anchor="end" fill="#383838" stroke="#383838" stroke-width="0.3">50</text>
<text x="634.0" y="56.4" font-size="14.4" text-anchor="end" fill="#383838" stroke="#383838" stroke-width="0.3">100</text>
<text x="643.6" y="177.5" font-size="14.3" text-anchor="middle" fill="#383838" stroke="#383838" stroke-width="0.3">5</text>
<text x="704.2" y="177.5" font-size="14.3" text-anchor="middle" fill="#383838" stroke="#383838" stroke-width="0.3">15</text>
<text x="795.1" y="177.5" font-size="14.3" text-anchor="middle" fill="#383838" stroke="#383838" stroke-width="0.3">30</text>
<text x="886.0" y="177.5" font-size="14.3" text-anchor="middle" fill="#383838" stroke="#383838" stroke-width="0.3">45</text>
<text x="976.9" y="177.5" font-size="14.3" text-anchor="middle" fill="#383838" stroke="#383838" stroke-width="0.3">60</text>
<text x="810.3" y="194.5" font-size="14.7" font-weight="bold" text-anchor="middle" fill="#1a1a1a">time [min]</text>
<text transform="translate(601.1 103.05) rotate(-89.28)" x="0" y="0" font-size="14.85" font-weight="bold" text-anchor="middle" fill="#1a1a1a">relative abundance [%]</text>
<rect x="737.0" y="167.2" width="3.3" height="1.3" rx="0.6" fill="#9a9a9a"/>
<path d="M643.5 267.3V379.4 M638.3 374.0H977.8 M638.3 268.1H643.5 M638.3 294.57500000000005H643.5 M638.3 321.05H643.5 M638.3 347.525H643.5 M673.8 374.0V379.4 M704.1 374.0V379.4 M734.4 374.0V379.4 M764.7 374.0V379.4 M795.0 374.0V379.4 M825.3 374.0V379.4 M855.6 374.0V379.4 M885.9 374.0V379.4 M916.2 374.0V379.4 M946.5 374.0V379.4 M976.8 374.0V379.4" stroke="#5c5c5c" stroke-width="1.8" fill="none"/>
<polyline points="644,373.8 650,373.5 655,372.8 657.8,371 660,373 665,373.2 668,372.8 669.8,370.5 672,373 674,373.8 677,373.2 680,371.8 682.5,371.8 685.5,368.5 687.5,369 690,369.5 692,372 693.5,370.5 696,372.8 700,373 704,364 708,358 709.5,350 710.5,337 711.5,342 713,367 715,367.5 716.5,366.8 718.2,369 722,366 725,362.5 726.5,366 729,372.5 731.5,372.5 734,358 736,355.5 738.1,353.8 740,345.6 741.5,353.1 743.1,370 746.2,372.5 750,372.5 752.5,368.8 756.9,365.6 758.8,367.5 760.6,371.9 761.9,371.2 764.4,356.2 766.9,351.9 768.5,345.6 770,355 771.9,370 775,371.9 785,373.1 793.8,371.2 798.8,368.1 801.9,365.6 805,369.8 810,371 820,372.5 827.5,370.6 832.5,370.6 837.5,370.6 840.6,367.3 845,369.4 848.1,365.6 850,358.8 851.9,363.8 855,341.3 857.5,353.8 859.6,312.5 861.8,348.7 863.3,350.9 865.5,348.7 868,267.4 870,331 871.4,328.8 872.5,336.9 874.1,309.5 875.4,353.9 876.6,328 877.8,351.7 878.5,327.3 879.6,352.4 881,324.3 883.3,359.1 885.5,355.4 887,357.6 890.2,343.5 892.6,360.6 896.1,346.5 898.1,354.6 900.3,358.8 902.1,345.8 903.5,359.1 905,355.4 906.5,363.5 908.9,336.2 910.6,362.8 912.8,359.1 914.3,361.3 916.1,345 918.3,361.3 919.6,362 922.4,358.4 924.8,362.8 927.6,358.8 931.6,364 935.2,362.4 939.2,364.4 942.8,364.4 946.4,366 950,365.6 955.6,366.8 962,365.4 970,366.8 976.4,365.8" fill="none" stroke="#12913f" stroke-width="2.1" stroke-linejoin="round" stroke-linecap="round"/>
<text x="634.0" y="379.1" font-size="14.4" text-anchor="end" fill="#383838" stroke="#383838" stroke-width="0.3">0</text>
<text x="634.0" y="326.15000000000003" font-size="14.4" text-anchor="end" fill="#383838" stroke="#383838" stroke-width="0.3">50</text>
<text x="634.0" y="273.20000000000005" font-size="14.4" text-anchor="end" fill="#383838" stroke="#383838" stroke-width="0.3">100</text>
<text x="643.6" y="394.3" font-size="14.3" text-anchor="middle" fill="#383838" stroke="#383838" stroke-width="0.3">5</text>
<text x="704.2" y="394.3" font-size="14.3" text-anchor="middle" fill="#383838" stroke="#383838" stroke-width="0.3">15</text>
<text x="795.1" y="394.3" font-size="14.3" text-anchor="middle" fill="#383838" stroke="#383838" stroke-width="0.3">30</text>
<text x="886.0" y="394.3" font-size="14.3" text-anchor="middle" fill="#383838" stroke="#383838" stroke-width="0.3">45</text>
<text x="976.9" y="394.3" font-size="14.3" text-anchor="middle" fill="#383838" stroke="#383838" stroke-width="0.3">60</text>
<text x="810.3" y="411.3" font-size="14.7" font-weight="bold" text-anchor="middle" fill="#1a1a1a">time [min]</text>
<text transform="translate(601.1 319.85) rotate(-89.28)" x="0" y="0" font-size="14.85" font-weight="bold" text-anchor="middle" fill="#1a1a1a">relative abundance [%]</text>
<rect x="737.0" y="384.0" width="3.3" height="1.3" rx="0.6" fill="#9a9a9a"/>
<path d="M643.5 453.3V565.4 M638.3 560.0H977.8 M638.3 454.1H643.5 M638.3 480.57500000000005H643.5 M638.3 507.05H643.5 M638.3 533.525H643.5 M673.8 560.0V565.4 M704.1 560.0V565.4 M734.4 560.0V565.4 M764.7 560.0V565.4 M795.0 560.0V565.4 M825.3 560.0V565.4 M855.6 560.0V565.4 M885.9 560.0V565.4 M916.2 560.0V565.4 M946.5 560.0V565.4 M976.8 560.0V565.4" stroke="#5c5c5c" stroke-width="1.8" fill="none"/>
<polyline points="644,559.6 672.4,559.2 674.8,558.8 680.8,559.2 683.8,558.8 686.8,557.2 689.2,558.6 692.8,558.6 695.2,557.6 697.6,559.3 714.4,559.2 717.4,557.6 719.8,559.3 731.2,559.2 736,558.2 739.6,557.4 742,555.2 744.4,559.2 761,558.8 764,557.2 767.5,556.2 769.8,553.8 771.2,555 772.8,559 785,559 795,557.8 798,558.2 801,559 803.5,557 815,558.2 823,558.5 825.5,557.5 828,559 832,558.8 838,556.2 840.5,553.8 843,554.5 844.5,543 846.5,542.2 848.5,533.5 850.7,538.9 853.7,540.8 855.9,545.6 857.4,518.9 859.6,496 861.3,505.6 863.7,527.1 865.5,523.4 869.2,469.4 870.2,477.5 871.4,499 873.2,507.1 874.7,453.1 875.8,478.3 877,480.5 878.5,524.9 879.5,529.3 880.6,487.9 882.8,474.6 885,545.6 886.5,546.3 888.4,540.4 890.6,544.8 892.8,545.6 894.3,550 897.3,543.3 899.5,549.3 902.3,549.6 903.6,551.4 906.3,549.6 908.6,544.2 910.6,551 913.1,541.5 915.3,549.6 918,546.5 920.7,552.3 923.4,550 926.6,553.2 928.8,551.6 931.1,553.4 934,552.5 938.3,554.7 941.9,552.8 946.8,555.5 952.2,553.9 958.1,555.7 964.8,553.9 972,556.1 976.5,555" fill="none" stroke="#e8760f" stroke-width="1.8" stroke-linejoin="round" stroke-linecap="round"/>
<text x="634.0" y="565.1" font-size="14.4" text-anchor="end" fill="#383838" stroke="#383838" stroke-width="0.3">0</text>
<text x="634.0" y="512.15" font-size="14.4" text-anchor="end" fill="#383838" stroke="#383838" stroke-width="0.3">50</text>
<text x="634.0" y="459.20000000000005" font-size="14.4" text-anchor="end" fill="#383838" stroke="#383838" stroke-width="0.3">100</text>
<text x="643.6" y="580.3" font-size="14.3" text-anchor="middle" fill="#383838" stroke="#383838" stroke-width="0.3">5</text>
<text x="704.2" y="580.3" font-size="14.3" text-anchor="middle" fill="#383838" stroke="#383838" stroke-width="0.3">15</text>
<text x="795.1" y="580.3" font-size="14.3" text-anchor="middle" fill="#383838" stroke="#383838" stroke-width="0.3">30</text>
<text x="886.0" y="580.3" font-size="14.3" text-anchor="middle" fill="#383838" stroke="#383838" stroke-width="0.3">45</text>
<text x="976.9" y="580.3" font-size="14.3" text-anchor="middle" fill="#383838" stroke="#383838" stroke-width="0.3">60</text>
<text x="810.3" y="597.3" font-size="14.7" font-weight="bold" text-anchor="middle" fill="#1a1a1a">time [min]</text>
<text transform="translate(601.1 505.15000000000003) rotate(-89.28)" x="0" y="0" font-size="14.85" font-weight="bold" text-anchor="middle" fill="#1a1a1a">relative abundance [%]</text>
<rect x="737.0" y="570.0" width="3.3" height="1.3" rx="0.6" fill="#9a9a9a"/>
<path d="M643.5 654.7V767.1999999999999 M638.3 761.8H977.8 M638.3 655.5H643.5 M638.3 682.075H643.5 M638.3 708.65H643.5 M638.3 735.2249999999999H643.5 M673.8 761.8V767.1999999999999 M704.1 761.8V767.1999999999999 M734.4 761.8V767.1999999999999 M764.7 761.8V767.1999999999999 M795.0 761.8V767.1999999999999 M825.3 761.8V767.1999999999999 M855.6 761.8V767.1999999999999 M885.9 761.8V767.1999999999999 M916.2 761.8V767.1999999999999 M946.5 761.8V767.1999999999999 M976.8 761.8V767.1999999999999" stroke="#5c5c5c" stroke-width="1.8" fill="none"/>
<polyline points="644,761.7 668,761.6 671.8,760.6 675,761.6 684,761.6 687.4,760.4 691,761.6 736,761.6 739.6,759.2 743,757.6 745.6,761.4 765.4,761.4 767.6,758.1 770.9,755.4 772.6,755.9 775.3,761.3 800,761.2 810,760.8 830,761.1 838.9,761.5 846.3,760.6 849.2,755.9 852.2,754.7 854.7,750 856.6,754.1 858.4,750 860,717.5 861.5,727.8 862.8,738.2 864.8,721.2 866.2,730.8 867,720.4 868.9,687.9 870.7,707.1 872.1,710.1 872.9,724.1 874.4,709.3 876.3,655.4 877.3,689.4 878.8,676.8 880.3,738.9 882.5,684.9 883.5,689.4 885,678.3 886.5,750 888.9,716.7 892.1,750 894.8,698.2 896.5,730 899.5,751.5 901.6,752.3 903.6,746.5 905,754.1 907.7,756.4 909.9,751 911.7,756.8 914,752.3 916.2,757.3 919.4,749.6 922.1,757.3 925.7,751.4 928.8,757.3 932,753.4 935.6,757.5 939.6,757.3 945.9,758.6 954,759.1 966.6,758.6 976.1,759.3" fill="none" stroke="#e0127e" stroke-width="2.1" stroke-linejoin="round" stroke-linecap="round"/>
<text x="634.0" y="766.9" font-size="14.4" text-anchor="end" fill="#383838" stroke="#383838" stroke-width="0.3">0</text>
<text x="634.0" y="713.75" font-size="14.4" text-anchor="end" fill="#383838" stroke="#383838" stroke-width="0.3">50</text>
<text x="634.0" y="660.6" font-size="14.4" text-anchor="end" fill="#383838" stroke="#383838" stroke-width="0.3">100</text>
<text x="643.6" y="782.6999999999999" font-size="14.3" text-anchor="middle" fill="#383838" stroke="#383838" stroke-width="0.3">5</text>
<text x="704.2" y="782.6999999999999" font-size="14.3" text-anchor="middle" fill="#383838" stroke="#383838" stroke-width="0.3">15</text>
<text x="795.1" y="782.6999999999999" font-size="14.3" text-anchor="middle" fill="#383838" stroke="#383838" stroke-width="0.3">30</text>
<text x="886.0" y="782.6999999999999" font-size="14.3" text-anchor="middle" fill="#383838" stroke="#383838" stroke-width="0.3">45</text>
<text x="976.9" y="782.6999999999999" font-size="14.3" text-anchor="middle" fill="#383838" stroke="#383838" stroke-width="0.3">60</text>
<text x="810.3" y="799.6999999999999" font-size="14.7" font-weight="bold" text-anchor="middle" fill="#1a1a1a">time [min]</text>
<text transform="translate(601.1 707.4499999999999) rotate(-89.28)" x="0" y="0" font-size="14.85" font-weight="bold" text-anchor="middle" fill="#1a1a1a">relative abundance [%]</text>
</svg></body></html>
